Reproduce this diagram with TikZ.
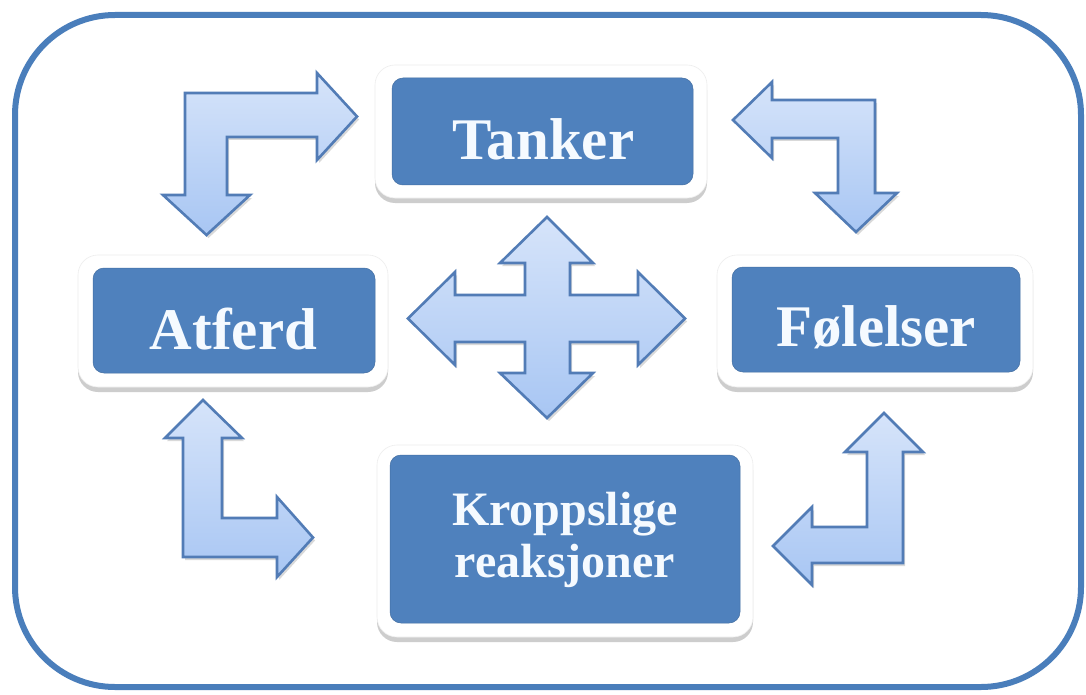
\documentclass[tikz,border=0pt]{standalone}
\usepackage{fontspec}
\setmainfont{Liberation Serif}
\usetikzlibrary{shadows}
\definecolor{frameblue}{RGB}{74,126,187}
\definecolor{boxblue}{RGB}{79,129,189}
\definecolor{arrowline}{RGB}{82,124,182}
\definecolor{arrowtop}{RGB}{214,228,250}
\definecolor{arrowbot}{RGB}{168,198,243}
\definecolor{txt}{RGB}{245,250,255}
\begin{document}
\begin{tikzpicture}[x=1pt,y=-1pt,
  frame/.style={draw=frameblue, line width=6pt, rounded corners=100pt},
  plate/.style={fill=white, draw=black!7, line width=0.6pt, rounded corners=20pt,
    drop shadow={shadow xshift=0pt, shadow yshift=-5pt, opacity=0.28, fill=black!70}},
  bluebox/.style={fill=boxblue, draw=boxblue!85!black, line width=0.5pt, rounded corners=11pt},
  lbl/.style={text=txt, inner sep=0pt},
  bigfont/.style={font=\bfseries\fontsize{59}{64}\selectfont},
  midfont/.style={font=\bfseries\fontsize{48}{52}\selectfont},
  blockarrow/.style={draw=arrowline, line width=2.6pt, line join=miter,
    top color=arrowtop, bottom color=arrowbot,
    drop shadow={shadow xshift=2pt, shadow yshift=-3pt, opacity=0.15, fill=black}}
]
\useasboundingbox (0,0) rectangle (1086,695);
\fill[white] (0,0) rectangle (1086,695);

% outer frame
\draw[frame] (15,15) rectangle (1081,687);

% Tanker
\node[plate, minimum width=332pt, minimum height=133pt] (tankerPlate) at (541,131.5) {};
\node[bluebox, minimum width=301pt, minimum height=107pt] (tanker) at (542.5,131.5) {};
\node[lbl, bigfont, anchor=base] (tankerT) at (543.5,160) {Tanker};

% Atferd
\node[plate, minimum width=310pt, minimum height=132pt] (atferdPlate) at (233,321) {};
\node[bluebox, minimum width=282pt, minimum height=105pt] (atferd) at (234,320.5) {};
\node[lbl, bigfont, anchor=base] (atferdT) at (233.5,349) {Atferd};

% Følelser
\node[plate, minimum width=316pt, minimum height=132pt] (folPlate) at (875,321) {};
\node[bluebox, minimum width=288pt, minimum height=105pt] (fol) at (876,319.5) {};
\node[lbl, bigfont, anchor=base] (folT) at (876,346) {Følelser};

% Kroppslige reaksjoner
\node[plate, minimum width=376pt, minimum height=192pt] (kroppPlate) at (565,541) {};
\node[bluebox, minimum width=350pt, minimum height=168pt] (kropp) at (565,539) {};
\node[lbl, midfont, align=center, anchor=base] (kroppT) at (565,577) {Kroppslige\\reaksjoner};

% top-left bent arrow
\draw[blockarrow] (185,93) -- (317,93) -- (317,73) -- (357,116.5) -- (317,160) -- (317,137)
  -- (227,137) -- (227,195) -- (250,195) -- (206.5,235) -- (163,195) -- (185,195) -- cycle;

% top-right bent arrow
\draw[blockarrow] (875,100) -- (875,193) -- (897,193) -- (856,232) -- (815,193) -- (838,193)
  -- (838,138) -- (772,138) -- (772,158) -- (733,120) -- (772,82) -- (772,100) -- cycle;

% bottom-left bent arrow
\draw[blockarrow] (183,557) -- (183,438) -- (165,438) -- (203,400) -- (242,438) -- (222,438)
  -- (222,518) -- (277,518) -- (277,497) -- (313,537.5) -- (277,577) -- (277,557) -- cycle;

% bottom-right bent arrow
\draw[blockarrow] (903,563) -- (903,452) -- (923,452) -- (884,413) -- (845,452) -- (867,452)
  -- (867,527) -- (812,527) -- (812,507) -- (773,546) -- (812,585) -- (812,563) -- cycle;

% central four-way arrow
\draw[blockarrow] (525,263) -- (500,263) -- (547,217) -- (593,263) -- (570,263) -- (570,295)
  -- (638,295) -- (638,272) -- (685,318.5) -- (638,365) -- (638,342) -- (570,342)
  -- (570,373) -- (593,373) -- (547,418) -- (500,373) -- (525,373) -- (525,342)
  -- (455,342) -- (455,365) -- (408,318.5) -- (455,272) -- (455,295) -- (525,295) -- cycle;
\end{tikzpicture}
\end{document}
